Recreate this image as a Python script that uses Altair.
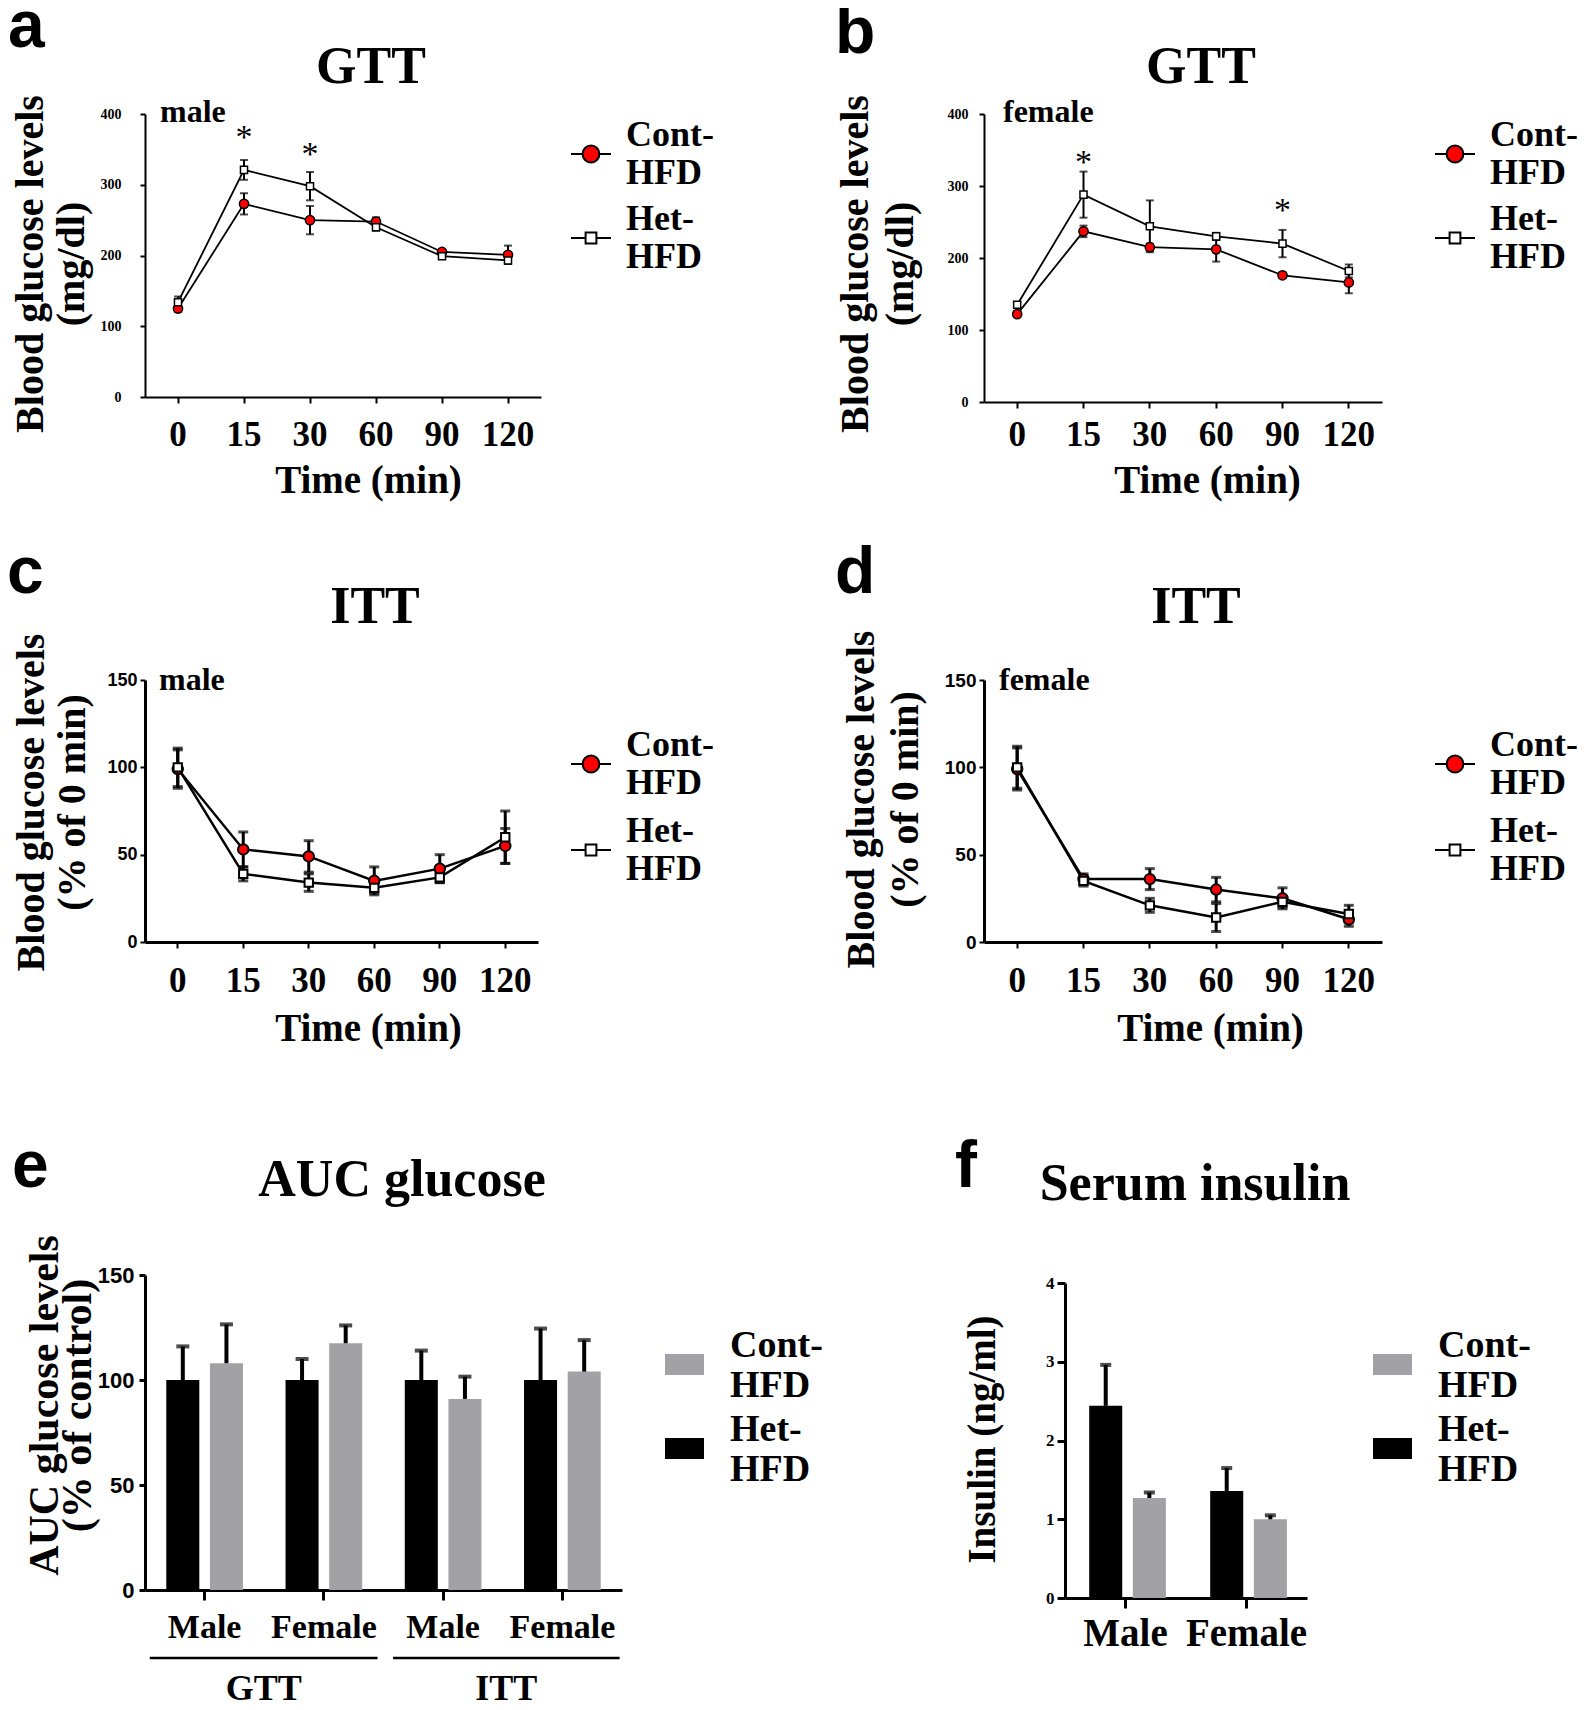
import altair as alt
import pandas as pd

SERIF = "Liberation Serif"
SANS = "Liberation Sans"
RED = "#ff0000"
GRAY = "#a2a1a6"

times = ["0", "15", "30", "60", "90", "120"]
groups = ["Cont-HFD", "Het-HFD"]

# a: GTT male
a_cont = [125, 273, 250, 248, 205, 201]
a_cont_sem = [5, 15, 20, 6, 4, 13]
a_het = [134, 321, 298, 240, 199, 193]
a_het_sem = [8, 14, 20, 5, 3, 4]
a_star_time = ["15", "30"]
a_star_y = [374, 350]

# b: GTT female
b_cont = [122, 237, 215, 212, 176, 166]
b_cont_sem = [4, 8, 5, 17, 4, 15]
b_het = [135, 288, 244, 230, 220, 182]
b_het_sem = [4, 32, 36, 5, 19, 9]
b_star_time = ["15", "90"]
b_star_y = [340, 273]

# c: ITT male
c_cont = [99, 53, 49, 35, 42, 55]
c_cont_sem = [11, 10, 9, 8, 8, 10]
c_het = [100, 39, 34, 31, 37, 60]
c_het_sem = [11, 4, 5, 3, 3, 15]

# d: ITT female
d_cont = [99, 36, 36, 30, 25, 13]
d_cont_sem = [12, 3, 6, 7, 6, 4]
d_het = [100, 35, 21, 14, 23, 16]
d_het_sem = [12, 3, 4, 8, 3, 5]

# e: AUC glucose
e_cats = ["GTT|Male", "GTT|Female", "ITT|Male", "ITT|Female"]
e_het = [100, 100, 100, 100]
e_het_sem = [16, 10, 14, 24.5]
e_cont = [108, 117.5, 91, 104]
e_cont_sem = [18.5, 8.5, 10.6, 15]
bracket_test = ["GTT", "ITT"]
bracket_from = [0.04, 2.08]
bracket_to = [1.95, 3.98]

# f: serum insulin
f_cats = ["Male", "Female"]
f_het = [2.44, 1.36]
f_het_sem = [0.52, 0.29]
f_cont = [1.27, 1.0]
f_cont_sem = [0.07, 0.05]

CIRCLE_LEG = "M-1,0H-0.42M0.42,0H1M-0.42,0A0.42,0.42,0,1,0,0.42,0A0.42,0.42,0,1,0,-0.42,0Z"
SQUARE_LEG = "M-1,0H-0.27M0.27,0H1M-0.27,-0.27H0.27V0.27H-0.27Z"
RECT_LEG = "M-1,-0.54H1V0.54H-1Z"
LEG_LABEL = ("[substring(datum.label, 0, indexof(datum.label, '-') + 1), "
             "substring(datum.label, indexof(datum.label, '-') + 1)]")


def label(txt, x, y, font, size, weight="bold", align="left"):
    return alt.Chart(pd.DataFrame({"t": [txt]})).mark_text(
        font=font, fontSize=size, fontWeight=weight, align=align,
        baseline="alphabetic", color="black"
    ).encode(text="t:N", x=alt.value(x), y=alt.value(y))


def line_panel(cont, cont_sem, het, het_sem, star_time, star_y, o):
    rows = []
    for g, vals, sems in (("Cont-HFD", cont, cont_sem), ("Het-HFD", het, het_sem)):
        for t, v, s in zip(times, vals, sems):
            rows.append({"time": t, "group": g, "value": v, "lo": v - s, "hi": v + s})
    df = pd.DataFrame(rows)
    xaxis = alt.Axis(title="Time (min)", labelAngle=0, labelFont=SERIF, labelFontSize=35,
                     labelFontWeight="bold", labelBaseline="alphabetic", labelPadding=o["xlp"],
                     tickSize=6, tickWidth=2, domainWidth=o["dw"], titleFont=SERIF,
                     titleFontSize=39, titleFontWeight="bold", titleBaseline="alphabetic",
                     titleX=o["xtx"], titleY=o["xty"])

    def X(field="time"):
        return alt.X(f"{field}:O", scale=alt.Scale(domain=times), axis=xaxis)

    yaxis = alt.Axis(title=o["ytitle"], values=o["yticks"], labelFont=o["ylf"],
                     labelFontSize=o["ylfs"], labelFontWeight="bold", labelPadding=o["ylp"],
                     tickSize=5, tickWidth=2, domainWidth=o["dw"], titleFont=SERIF,
                     titleFontSize=40, titleFontWeight="bold", titleLineHeight=o["ytlh"],
                     titleBaseline="middle", titleX=o["ytx"], titleY=o["yty"])

    def Y(field):
        return alt.Y(f"{field}:Q", scale=alt.Scale(domain=[0, o["ymax"]], nice=False), axis=yaxis)

    base = alt.Chart(df)
    line = base.mark_line(color="black", strokeWidth=o["lw"]).encode(
        x=X(), y=Y("value"), detail="group:N")
    err = base.mark_rule(color="black", strokeWidth=o["ew"]).encode(
        x=X(), y=Y("lo"), y2="hi:Q")
    cap_lo = base.mark_tick(color="black", thickness=o["ew"], size=o["cap"]).encode(x=X(), y=Y("lo"))
    cap_hi = base.mark_tick(color="black", thickness=o["ew"], size=o["cap"]).encode(x=X(), y=Y("hi"))
    pc = base.transform_filter(alt.datum.group == "Cont-HFD").mark_point(
        shape="circle", filled=True, fill=RED, stroke="black", strokeWidth=o["msw"],
        size=o["cs"], opacity=1).encode(x=X(), y=Y("value"))
    ph = base.transform_filter(alt.datum.group == "Het-HFD").mark_point(
        shape="square", filled=True, fill="white", stroke="black", strokeWidth=o["msw"],
        size=o["ss"], opacity=1).encode(x=X(), y=Y("value"))
    leg = alt.Legend(title=None, orient="none", legendX=o["lx"], legendY=o["ly"], padding=0,
                     labelFont=SERIF, labelFontSize=36, labelFontWeight="bold", labelColor="black",
                     labelExpr=LEG_LABEL, labelBaseline="bottom", labelOffset=o["lo"],
                     labelLimit=0, rowPadding=o["lrp"], symbolSize=1600,
                     symbolStrokeColor="black", symbolStrokeWidth=2, symbolOpacity=1)
    legend_layer = base.transform_filter("false").mark_point(
        filled=True, strokeWidth=2, opacity=1).encode(
        x=X(), y=Y("value"),
        shape=alt.Shape("group:N", scale=alt.Scale(domain=groups, range=[CIRCLE_LEG, SQUARE_LEG]), legend=leg),
        fill=alt.Fill("group:N", scale=alt.Scale(domain=groups, range=[RED, "white"]), legend=leg),
        stroke=alt.Stroke("group:N", scale=alt.Scale(domain=groups, range=["black", "black"]), legend=leg))
    layers = [line, err, cap_lo, cap_hi, pc, ph, legend_layer]
    if star_time:
        sdf = pd.DataFrame({"time": star_time, "y": star_y})
        stars = alt.Chart(sdf).mark_text(text="*", font=SERIF, fontSize=34, baseline="alphabetic",
                                         dy=16, color="black").encode(x=X(), y=Y("y"))
        layers.append(stars)
    lt, lx, ly = o["letter"]
    tt, tx, ty = o["title"]
    st, sx, sy = o["sex"]
    layers += [label(lt, lx, ly, SANS, 66), label(tt, tx, ty, SERIF, 52, align="center"),
               label(st, sx, sy, SERIF, 32)]
    return alt.layer(*layers).properties(width=o["w"], height=o["h"])


def bar_panel(cat_ids, het, het_sem, cont, cont_sem, o, extra):
    rows = []
    for g, vals, sems in (("Het-HFD", het, het_sem), ("Cont-HFD", cont, cont_sem)):
        for c, v, s in zip(cat_ids, vals, sems):
            rows.append({"cat": c, "group": g, "value": v, "hi": v + s})
    df = pd.DataFrame(rows)
    xaxis = alt.Axis(title=None, labelAngle=0, labelExpr=o["lexpr"], labelFont=SERIF,
                     labelFontSize=o["xlfs"], labelFontWeight="bold", labelBaseline="alphabetic",
                     labelPadding=37, tickSize=10, tickWidth=3, domainWidth=3)
    X = alt.X("cat:N", scale=alt.Scale(domain=cat_ids, paddingInner=o["pi"], paddingOuter=o["po"],
                                       range=[o["left"], o["w"]]),
              axis=xaxis)
    XO = alt.XOffset("group:N", scale=alt.Scale(domain=["Het-HFD", "Cont-HFD"],
                                                paddingInner=o["opi"], paddingOuter=0))
    yaxis = alt.Axis(title=o["ytitle"], values=o["yticks"], labelFont=o["ylf"],
                     labelFontSize=o["ylfs"], labelFontWeight="bold", labelPadding=o["ylp"],
                     tickSize=o["yts"], tickWidth=3, domainWidth=3, titleFont=SERIF,
                     titleFontSize=o["ytfs"], titleFontWeight="bold", titleLineHeight=o["ytlh"],
                     titleBaseline="middle", titleX=o["ytx"], titleY=o["yty"], offset=-o["left"])

    def Y(field):
        return alt.Y(f"{field}:Q", scale=alt.Scale(domain=[0, o["ymax"]], nice=False,
                                                   range=[o["h"], o["top"]]), axis=yaxis)

    leg = alt.Legend(title=None, orient="none", legendX=o["lx"], legendY=o["ly"], padding=0,
                     labelFont=SERIF, labelFontSize=38, labelFontWeight="bold", labelColor="black",
                     labelExpr=LEG_LABEL, labelBaseline="bottom", labelOffset=26, labelLimit=0,
                     rowPadding=o["lrp"], symbolType=RECT_LEG, symbolSize=1521,
                     symbolStrokeWidth=0, symbolOpacity=1)
    base = alt.Chart(df)
    bars = base.mark_bar(strokeWidth=0, opacity=1).encode(
        x=X, xOffset=XO, y=Y("value"),
        fill=alt.Fill("group:N", scale=alt.Scale(domain=groups, range=[GRAY, "black"]), legend=leg))
    err = base.mark_rule(color="black", strokeWidth=o["ew"]).encode(
        x=X, xOffset=XO, y=Y("value"), y2="hi:Q")
    cap = base.mark_tick(color="black", thickness=o["ew"], size=o["cap"]).encode(
        x=X, xOffset=XO, y=Y("hi"))
    inner = alt.layer(bars, err, cap)
    lt, lx, ly = o["letter"]
    tt, tx, ty = o["title"]
    layers = [inner] + extra + [label(lt, lx, ly, SANS, 66),
                                label(tt, tx, ty, SERIF, 52, align="center")]
    return alt.layer(*layers).resolve_scale(x="independent").properties(width=o["w"], height=o["h"])


pa = line_panel(a_cont, a_cont_sem, a_het, a_het_sem, a_star_time, a_star_y, dict(
    w=396, h=283, ymax=400, yticks=[0, 100, 200, 300, 400],
    ytitle=["Blood glucose levels", "(mg/dl)"], ylf=SERIF, ylfs=14, ylp=19, ytlh=41,
    ytx=-115, yty=149.5, xlp=42, xtx=223, xty=95, dw=2, lw=1.8, ew=2, cap=8, msw=1.5,
    cs=85, ss=50, lx=425, ly=19, lo=14, lrp=10,
    letter=("a", -137, -67), title=("GTT", 226, -31), sex=("male", 15, 8)))

pb = line_panel(b_cont, b_cont_sem, b_het, b_het_sem, b_star_time, b_star_y, dict(
    w=398, h=288, ymax=400, yticks=[0, 100, 200, 300, 400],
    ytitle=["Blood glucose levels", "(mg/dl)"], ylf=SERIF, ylfs=14, ylp=11, ytlh=45,
    ytx=-129, yty=149.5, xlp=37, xtx=223, xty=90, dw=2, lw=1.8, ew=2, cap=8, msw=1.5,
    cs=85, ss=50, lx=450, ly=19, lo=14, lrp=10,
    letter=("b", -149, -61), title=("GTT", 217, -31), sex=("female", 19, 8)))

pc = line_panel(c_cont, c_cont_sem, c_het, c_het_sem, [], [], dict(
    w=393, h=262, ymax=150, yticks=[0, 50, 100, 150],
    ytitle=["Blood glucose levels", "(% of 0 min)"], ylf=SANS, ylfs=18, ylp=3, ytlh=41,
    ytx=-114, yty=122, xlp=43, xtx=223, xty=98, dw=3, lw=2.5, ew=3, cap=10, msw=2,
    cs=110, ss=70, lx=425, ly=63, lo=14, lrp=12,
    letter=("c", -138, -87), title=("ITT", 230, -57), sex=("male", 14, 10)))

pd_ = line_panel(d_cont, d_cont_sem, d_het, d_het_sem, [], [], dict(
    w=398, h=262, ymax=150, yticks=[0, 50, 100, 150],
    ytitle=["Blood glucose levels", "(% of 0 min)"], ylf=SANS, ylfs=19, ylp=3, ytlh=44,
    ytx=-123, yty=119, xlp=43, xtx=226, xty=98, dw=3, lw=2.5, ew=3, cap=10, msw=2,
    cs=110, ss=70, lx=450, ly=63, lo=14, lrp=12,
    letter=("d", -149, -87), title=("ITT", 212, -57), sex=("female", 15, 10)))

bdf = pd.DataFrame({"test": bracket_test, "x0": bracket_from, "x1": bracket_to})
bscale = alt.Scale(domain=[0, 4])
brackets = alt.Chart(bdf).mark_rule(color="black", strokeWidth=2.5).encode(
    x=alt.X("x0:Q", scale=bscale, axis=None), x2="x1:Q", y=alt.value(438))
bracket_text = alt.Chart(bdf).transform_calculate(xm="(datum.x0 + datum.x1) / 2").mark_text(
    font=SERIF, fontSize=36, fontWeight="bold", baseline="alphabetic", align="center",
    color="black").encode(x=alt.X("xm:Q", scale=bscale, axis=None), y=alt.value(480), text="test:N")

pe = bar_panel(e_cats, e_het, e_het_sem, e_cont, e_cont_sem, dict(
    w=477, h=370, top=55, left=0, ymax=150, yticks=[0, 50, 100, 150],
    lexpr="split(datum.label, '|')[1]", xlfs=34, pi=0.357, po=0.1785, opi=0.243,
    ytitle=["AUC glucose levels", "(% of control)"], ylf=SANS, ylfs=22, ylp=5, yts=6,
    ytfs=42, ytlh=33, ytx=-101, yty=185, ew=4, cap=13, lx=520, ly=125, lrp=5,
    letter=("e", -133, -33), title=("AUC glucose", 257, -24)), [brackets, bracket_text])

# panel f sits in the second column (x=984); its plot starts 81px further right
pf = bar_panel(f_cats, f_het, f_het_sem, f_cont, f_cont_sem, dict(
    w=323, h=378, top=63, left=81, ymax=4, yticks=[0, 1, 2, 3, 4],
    lexpr="datum.label", xlfs=39, pi=0.4, po=0.2, opi=0.334,
    ytitle="Insulin (ng/ml)", ylf=SERIF, ylfs=17, ylp=3, yts=8,
    ytfs=39, ytlh=40, ytx=-83, yty=219, ew=4, cap=11, lx=389, ly=125, lrp=5,
    letter=("f", -29, -33), title=("Serum insulin", 211, -20)), [])

chart = alt.concat(
    pa, pb, pc, pd_, pe, pf, columns=2,
    spacing={"row": 278, "column": 362}, bounds="flush", align="each"
).resolve_scale(
    shape="independent", fill="independent", stroke="independent",
    x="independent", y="independent"
).properties(
    autosize=alt.AutoSizeParams(type="none"),
    padding={"left": 137, "top": 106, "right": 1434, "bottom": 1596}
).configure_view(stroke=None).configure_axis(
    grid=False, domainColor="black", tickColor="black", labelColor="black", titleColor="black"
)

chart.save("out.html", embed_options={"renderer": "svg", "actions": False})
